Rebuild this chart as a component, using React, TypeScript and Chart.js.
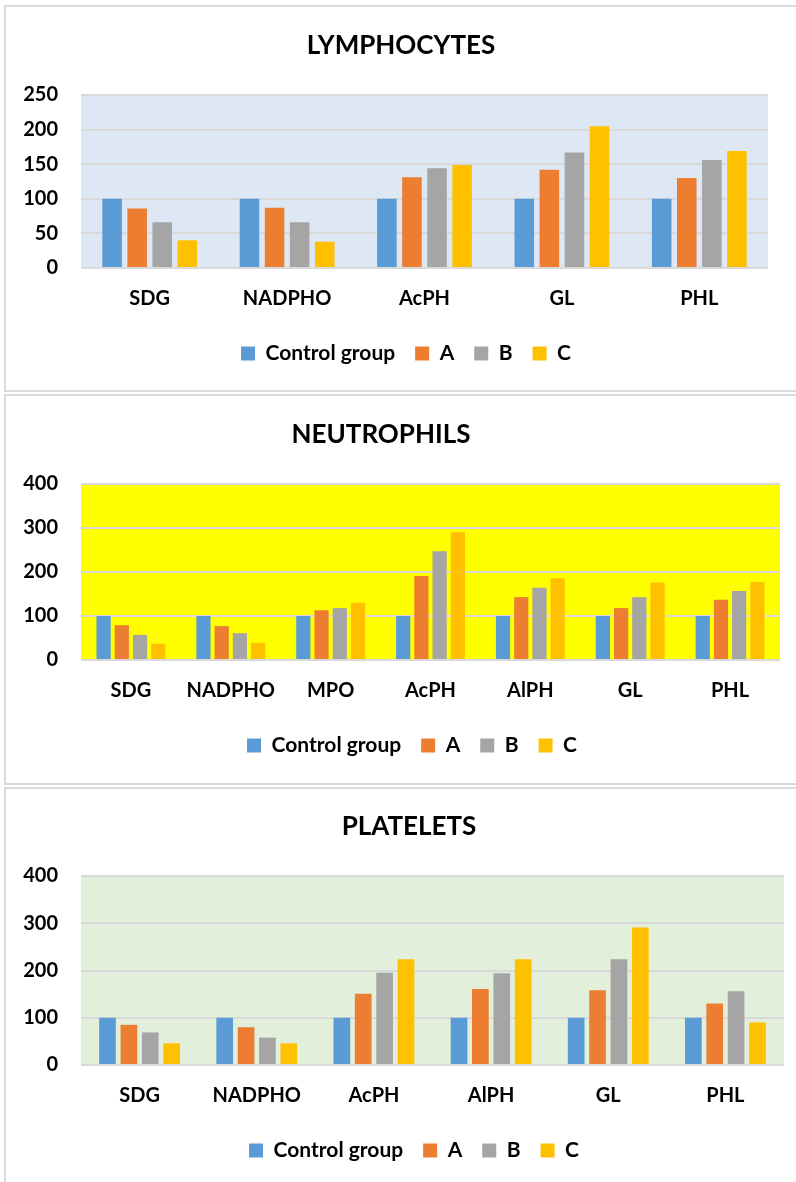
import React, { useEffect, useRef } from "react";
import { Chart, registerables } from "chart.js";

Chart.register(...registerables);

// ---- data ----
const seriesLabels = ["Control group", "A", "B", "C"];
const seriesColors = ["#5B9BD5", "#ED7D31", "#A5A5A5", "#FFC000"];

const lymphTitle = "LYMPHOCYTES";
const lymphCategories = ["SDG", "NADPHO", "AcPH", "GL", "PHL"];
const lymphControl = [100, 100, 100, 100, 100];
const lymphA = [86, 87, 131, 142, 130];
const lymphB = [66, 66, 144, 167, 156];
const lymphC = [40, 38, 149, 205, 169];
const lymphTicks = { max: 250, step: 50 };

const neutroTitle = "NEUTROPHILS";
const neutroCategories = ["SDG", "NADPHO", "MPO", "AcPH", "AlPH", "GL", "PHL"];
const neutroControl = [100, 100, 100, 100, 100, 100, 100];
const neutroA = [79, 77, 113, 191, 143, 118, 137];
const neutroB = [57, 61, 118, 247, 164, 143, 157];
const neutroC = [37, 39, 130, 291, 186, 176, 177];
const neutroTicks = { max: 400, step: 100 };

const plateTitle = "PLATELETS";
const plateCategories = ["SDG", "NADPHO", "AcPH", "AlPH", "GL", "PHL"];
const plateControl = [100, 100, 100, 100, 100, 100];
const plateA = [85, 80, 151, 161, 158, 130];
const plateB = [69, 58, 195, 194, 224, 156];
const plateC = [46, 46, 224, 224, 291, 90];
const plateTicks = { max: 400, step: 100 };

const FONT = "Lato";

const plotBgPlugin = {
  id: "plotBg",
  beforeDraw(chart: any, _args: any, opts: any) {
    const { ctx, chartArea } = chart;
    if (!chartArea) return;
    ctx.save();
    ctx.fillStyle = opts.color;
    ctx.fillRect(chartArea.left, chartArea.top, chartArea.right - chartArea.left, chartArea.bottom - chartArea.top);
    ctx.restore();
  },
};

// shifts the legend box horizontally so the legend row sits where the reference has it
const legendShiftPlugin = {
  id: "legendShift",
  afterLayout(chart: any, _args: any, opts: any) {
    const lg = chart.legend;
    if (!lg || !opts || !opts.dx) return;
    lg.left += opts.dx;
    lg.right += opts.dx;
  },
};

type Spec = {
  title: string;
  categories: string[];
  series: number[][];
  max: number;
  step: number;
  bg: string;
  canvasTop: number;
  canvasHeight: number;
  padTop: number;
  padRight: number;
  padBottom: number;
  titleCenter: number;
  titleTop: number;
};

function BarChart({ spec }: { spec: Spec }) {
  const ref = useRef<HTMLCanvasElement | null>(null);
  useEffect(() => {
    if (!ref.current) return;
    const tickFont = { family: FONT, weight: "bold" as const, size: 20 };
    const chart = new Chart(ref.current, {
      type: "bar",
      data: {
        labels: spec.categories,
        datasets: spec.series.map((d, i) => ({
          label: seriesLabels[i],
          data: d,
          backgroundColor: seriesColors[i],
          borderWidth: 0,
          categoryPercentage: 0.73,
          barPercentage: 0.78,
        })),
      },
      options: {
        animation: false,
        responsive: false,
        devicePixelRatio: 1,
        layout: {
          padding: { left: 0, right: spec.padRight, top: spec.padTop, bottom: spec.padBottom },
        },
        plugins: {
          title: { display: false },
          tooltip: { enabled: false },
          legend: {
            position: "bottom",
            labels: {
              boxWidth: 14,
              boxHeight: 14,
              padding: 20,
              color: "#000",
              font: { family: FONT, weight: "bold", size: 21 },
            },
          },
          plotBg: { color: spec.bg },
          legendShift: { dx: 22 },
        } as any,
        scales: {
          x: {
            grid: { display: false, drawTicks: false },
            border: { display: false },
            ticks: {
              padding: 19,
              color: "#000",
              font: tickFont,
              maxRotation: 0,
              autoSkip: false,
            },
            afterFit: (s: any) => {
              s.height = 55;
            },
          },
          y: {
            min: 0,
            max: spec.max,
            ticks: { stepSize: spec.step, padding: 23, color: "#000", font: tickFont },
            grid: { color: "#D9D9D9", lineWidth: 2, drawTicks: false },
            border: { display: false },
            afterFit: (s: any) => {
              s.width = 81;
            },
          },
        },
      },
      plugins: [plotBgPlugin, legendShiftPlugin],
    });
    return () => chart.destroy();
  }, [spec]);

  return (
    <>
      <canvas
        ref={ref}
        width={796}
        height={spec.canvasHeight}
        style={{ position: "absolute", left: 0, top: spec.canvasTop, width: 796, height: spec.canvasHeight, display: "block" }}
      />
      <div
        style={{
          position: "absolute",
          left: spec.titleCenter,
          top: spec.titleTop,
          transform: "translateX(-50%)",
          font: `bold 26px ${FONT}`,
          lineHeight: "26px",
          whiteSpace: "nowrap",
          color: "#000",
        }}
      >
        {spec.title}
      </div>
    </>
  );
}

const specs: Spec[] = [
  {
    title: lymphTitle,
    categories: lymphCategories,
    series: [lymphControl, lymphA, lymphB, lymphC],
    max: lymphTicks.max,
    step: lymphTicks.step,
    bg: "#DEE8F4",
    canvasTop: 0,
    canvasHeight: 392,
    padTop: 95,
    padRight: 28,
    padBottom: 18,
    titleCenter: 401,
    titleTop: 31,
  },
  {
    title: neutroTitle,
    categories: neutroCategories,
    series: [neutroControl, neutroA, neutroB, neutroC],
    max: neutroTicks.max,
    step: neutroTicks.step,
    bg: "#FFFF00",
    canvasTop: 392,
    canvasHeight: 392,
    padTop: 92,
    padRight: 16,
    padBottom: 18,
    titleCenter: 381,
    titleTop: 420,
  },
  {
    title: plateTitle,
    categories: plateCategories,
    series: [plateControl, plateA, plateB, plateC],
    max: plateTicks.max,
    step: plateTicks.step,
    bg: "#E2EFDA",
    canvasTop: 786,
    canvasHeight: 396,
    padTop: 90,
    padRight: 12,
    padBottom: 11,
    titleCenter: 409,
    titleTop: 812,
  },
];

const panelBoxes = [
  { top: 5, height: 387 },
  { top: 394, height: 391 },
  { top: 787, height: 420 },
];

export default function App() {
  useEffect(() => {
    document.body.style.margin = "0";
  }, []);
  return (
    <div
      style={{
        position: "absolute",
        left: 0,
        top: 0,
        width: 796,
        height: 1182,
        overflow: "hidden",
        background: "#fff",
      }}
    >
      {panelBoxes.map((p, i) => (
        <div
          key={i}
          style={{
            position: "absolute",
            left: 4,
            top: p.top,
            width: 820,
            height: p.height,
            boxSizing: "border-box",
            border: "2px solid #D9D9D9",
          }}
        />
      ))}
      {specs.map((s, i) => (
        <BarChart key={i} spec={s} />
      ))}
    </div>
  );
}
